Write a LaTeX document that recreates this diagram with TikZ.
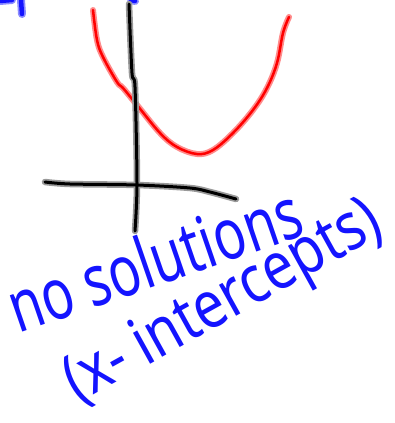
\documentclass[tikz,border=0pt]{standalone}
\usepackage{fontspec}
\setmainfont{Noto Sans}
\definecolor{inkblue}{RGB}{20,20,255}
\definecolor{haloblue}{RGB}{140,140,255}
\definecolor{inkred}{RGB}{255,0,0}
\definecolor{halored}{RGB}{255,140,140}
\tikzset{
  redhalo/.style={line width=6pt,halored,line cap=round,line join=round},
  redink/.style={line width=2.5pt,inkred,line cap=round,line join=round},
  blackhalo/.style={line width=6.5pt,black!40,line cap=round,line join=round},
  blackink/.style={line width=3pt,black,line cap=round,line join=round},
  bluehalo/.style={line width=8pt,haloblue,line cap=round,line join=round},
  blueink/.style={line width=4.5pt,inkblue,line cap=round,line join=round},
  hand/.style={inkblue,inner sep=0pt}
}
\begin{document}
\begin{tikzpicture}[x=1pt,y=-1pt]
\useasboundingbox (0,0) rectangle (394,423);
\fill[white] (0,0) rectangle (394,423);
% fragments at top edge
\foreach \s in {bluehalo,blueink}{
  \draw[\s] (21,0) -- (22,14);
  \draw[\s] (0,1) -- (12,0);
  \draw[\s] (131,0) -- (135,1);
}
% parabola
\foreach \s in {redhalo,redink}{
  \draw[\s] plot[smooth,tension=0.6] coordinates {(93,10) (97,40) (103,57) (117,82) (123,88) (137,105) (160,133) (177,147) (197,154) (213,150) (233,133) (253,110) (267,88) (277,63) (283,33) (289,17)};
}
% axes
\foreach \s in {blackhalo,blackink}{
  \draw[\s] plot[smooth,tension=0.5] coordinates {(129,4) (132,73) (135,87) (137,183) (135,231)};
  \draw[\s] plot[smooth,tension=0.5] coordinates {(45,182) (70,184) (137,185) (190,188) (210,192) (236,199)};
}
% text
\node[hand,anchor=base west,rotate=19,yscale=1.35,font=\fontsize{53}{53}\selectfont] (l1) at (18,334) {no solutions};
\node[hand,anchor=base west,rotate=29,yscale=1.2,font=\fontsize{55}{55}\selectfont] (l2) at (78,404) {(x- intercepts)};
\end{tikzpicture}
\end{document}
